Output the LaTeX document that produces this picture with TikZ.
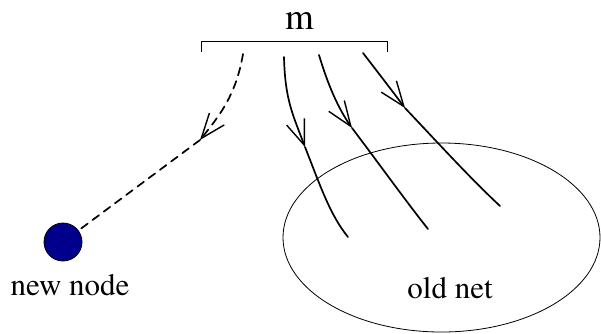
\documentclass[tikz,border=0pt]{standalone}
\usepackage{fontspec}
\setmainfont{texgyretermes-regular.otf}
\newfontfamily\labelfont{texgyretermes-regular.otf}
\usetikzlibrary{arrows.meta,shapes.geometric}
\definecolor{nodeblue}{RGB}{0,0,140}
\tikzset{
  lbl/.style={font=\labelfont\fontsize{31}{36}\selectfont, inner sep=0pt, anchor=base},
  link/.style={line width=1.7pt, line cap=round},
  tip/.style={-{Straight Barb[length=25pt,width=19pt,line width=1.4pt]}},
}
\begin{document}
\begin{tikzpicture}[x=1pt, y=-1pt]
\useasboundingbox (0,0) rectangle (601,333);
% the m links and the bracket
\node[lbl, font=\labelfont\fontsize{37}{40}\selectfont] (m) at (300,29) {m};
\draw[line width=0.9pt] (201,52) -- (201,41) -- (387,41) -- (387,52);
\coordinate (s0) at (243,54);
\coordinate (s1) at (284,57);
\coordinate (s2) at (319,55);
\coordinate (s3) at (363,53);
% the two nets
\node[circle, draw, fill=nodeblue, line width=0.8pt, minimum size=38pt, inner sep=0pt] (newnode) at (63,242) {};
\node[lbl] (newlbl) at (70,295) {new node};
\node[ellipse, draw, line width=0.8pt, minimum width=317pt, minimum height=189pt, inner sep=0pt] (oldnet) at (441.5,237.5) {};
\node[lbl] (oldlbl) at (450,298) {old net};
% links into the old net
\coordinate (a1) at (305,147);
\coordinate (a2) at (352,128);
\coordinate (a3) at (405,108);
\coordinate (e1) at (348,237);
\coordinate (e2) at (428,229);
\coordinate (e3) at (500,206);
\draw[link, tip] (s1) .. controls (285,100) and (293,115) .. (a1);
\draw[link] (a1) .. controls (320,185) and (330,215) .. (e1);
\draw[link, tip] (s2) .. controls (328,85) and (338,108) .. (a2);
\draw[link] (a2) .. controls (380,165) and (405,200) .. (e2);
\draw[link, tip] (s3) .. controls (380,75) and (393,92) .. (a3);
\draw[link] (a3) .. controls (440,145) and (470,178) .. (e3);
% link to the new node
\coordinate (a0) at (200,140);
\draw[link, dash pattern=on 8pt off 6pt, tip] (s0) .. controls (236,95) and (220,115) .. (a0);
\draw[link, dash pattern=on 8pt off 6pt] (a0) -- (newnode);
\end{tikzpicture}
\end{document}
